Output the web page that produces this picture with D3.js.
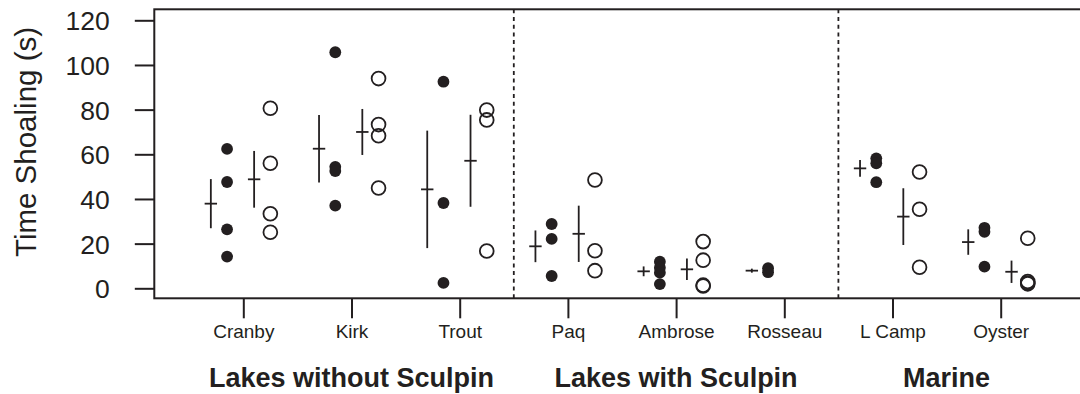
<!DOCTYPE html>
<html><head><meta charset="utf-8">
<script src="https://cdn.jsdelivr.net/npm/d3@7"></script>
<style>
html,body{margin:0;padding:0;background:#fff;}
svg{display:block;font-family:"Liberation Sans",Arial,Helvetica,sans-serif;}
</style></head>
<body><svg id="c" width="1080" height="394"></svg>
<script>
const categories = ["Cranby","Kirk","Trout","Paq","Ambrose","Rosseau","L Camp","Oyster"];
const groups = ["Lakes without Sculpin","Lakes with Sculpin","Marine"];
const groupFirst = ["Cranby","Paq","L Camp"];
const groupLast = ["Trout","Rosseau","Oyster"];
const yTicks = [0,20,40,60,80,100,120];
const yTitle = "Time Shoaling (s)";

// individual values (filled = solid dots, open = open circles)
const filledValues = [
  [62.4,47.6,26.4,14.2],
  [105.7,54.4,52.5,37.0],
  [92.5,38.2,2.4],
  [28.8,22.1,5.5],
  [11.9,9.2,7.0,1.9],
  [9.0,7.2],
  [58.2,56.0,47.5],
  [27.1,25.3,9.7]
];
const openValues = [
  [80.6,56.0,33.4,25.1],
  [93.9,73.3,68.3,44.9],
  [79.8,75.4,16.7],
  [48.5,16.8,7.9],
  [20.9,12.6,1.4,1.0],
  [],
  [52.1,35.4,9.4],
  [22.4,3.0,2.4,2.0]
];
// mean and standard error drawn as crosses
const filledMean = [37.9,62.5,44.3,18.8,7.6,7.9,53.7,20.7];
const filledSE   = [11.0,15.1,26.3,7.1,2.2,0.9,3.7,5.7];
const openMean   = [48.8,70.0,57.1,24.4,8.5,null,32.1,7.4];
const openSE     = [12.7,10.3,20.6,12.6,4.8,null,12.7,5.0];

const ink = "#231f20";
const svg = d3.select("#c");
const box = {left:154.3, top:9.3, bottom:298.3, right:1092};

const x = d3.scalePoint().domain(categories).range([243.3,1000.7]);
const step = x.step();
const y = d3.scaleLinear().domain([0,120]).range([288.3,20.3]);

const off = {fMean:-0.30, fDot:-0.15, oMean:0.10, oDot:0.25};

// frame
svg.append("rect").attr("x",box.left).attr("y",box.top)
  .attr("width",box.right-box.left).attr("height",box.bottom-box.top)
  .attr("fill","none").attr("stroke",ink).attr("stroke-width",2);

// y axis
const yAxis = svg.append("g").attr("transform",`translate(${box.left},0)`)
  .call(d3.axisLeft(y).tickValues(yTicks).tickSize(19.5).tickPadding(25).tickFormat(d3.format("d")));
yAxis.select(".domain").remove();
yAxis.selectAll(".tick line").attr("stroke",ink).attr("stroke-width",2);
yAxis.selectAll(".tick text").attr("fill",ink).style("font-size","26.5px")
  .attr("font-family","Liberation Sans, Arial, sans-serif").attr("dy","0.36em");

// x axis
const xAxis = svg.append("g").attr("transform",`translate(0,${box.bottom})`)
  .call(d3.axisBottom(x).tickSize(20).tickPadding(6));
xAxis.select(".domain").remove();
xAxis.selectAll(".tick line").attr("stroke",ink).attr("stroke-width",2);
xAxis.selectAll(".tick text").attr("fill",ink).style("font-size","19px")
  .attr("font-family","Liberation Sans, Arial, sans-serif").attr("dy","0.74em");

// y title
svg.append("text").attr("transform",`translate(36,142) rotate(-90)`)
  .attr("text-anchor","middle").attr("fill",ink).style("font-size","29.5px").text(yTitle);

// group labels and dividers
groups.forEach((g,i)=>{
  const cx = (x(groupFirst[i]) + x(groupLast[i]))/2;
  svg.append("text").attr("x",cx).attr("y",387).attr("text-anchor","middle")
    .attr("fill",ink).style("font-size","27px").style("font-weight","bold").text(g);
  if(i < groups.length-1){
    const dx = (x(groupLast[i]) + x(groupFirst[i+1]))/2;
    svg.append("line").attr("x1",dx).attr("x2",dx).attr("y1",box.top).attr("y2",box.bottom)
      .attr("stroke",ink).attr("stroke-width",1.8).attr("stroke-dasharray","4,3.7");
  }
});

// crosses
function cross(means, ses, o){
  categories.forEach((c,i)=>{
    if(means[i]==null) return;
    const cx = x(c) + o*step;
    const g = svg.append("g").attr("stroke",ink).attr("stroke-width",1.8);
    g.append("line").attr("x1",cx).attr("x2",cx).attr("y1",y(means[i]+ses[i])).attr("y2",y(means[i]-ses[i]));
    g.append("line").attr("x1",cx-6.2).attr("x2",cx+6.2).attr("y1",y(means[i])).attr("y2",y(means[i]));
  });
}
cross(filledMean, filledSE, off.fMean);
cross(openMean, openSE, off.oMean);

// points
categories.forEach((c,i)=>{
  svg.append("g").selectAll("circle").data(filledValues[i]).join("circle")
    .attr("cx",x(c)+off.fDot*step).attr("cy",d=>y(d)).attr("r",5.9).attr("fill",ink);
  svg.append("g").selectAll("circle").data(openValues[i]).join("circle")
    .attr("cx",x(c)+off.oDot*step).attr("cy",d=>y(d)).attr("r",6.9)
    .attr("fill","none").attr("stroke",ink).attr("stroke-width",1.8);
});
</script></body></html>
